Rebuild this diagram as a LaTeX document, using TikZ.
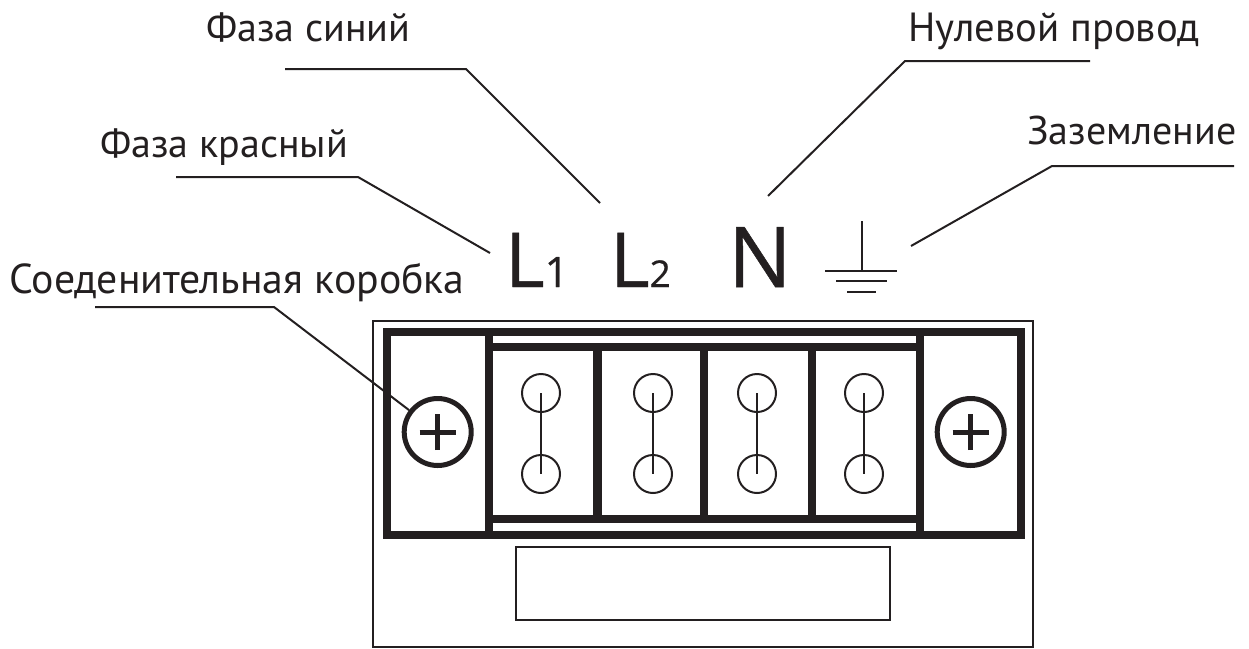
\documentclass[tikz,border=0pt]{standalone}
\usepackage{fontspec}
\setmainfont{PT Sans}
\newfontfamily\markfont{Open Sans}[FakeBold=0.6]
\usepackage{xcolor}
\usetikzlibrary{positioning}
\definecolor{inkblack}{HTML}{231F20}
\tikzset{
    label text/.style = {anchor = base west, inner sep = 0pt, text = inkblack, font = \fontsize{40}{40}\selectfont},
    mark text/.style = {anchor = base west, inner sep = 0pt, text = inkblack, font = \markfont\fontsize{76}{76}\selectfont},
    leader/.style = {draw = inkblack, line width = 2pt},
    heavy/.style = {draw = inkblack, line width = 8pt},
    terminal/.style = {circle, draw = inkblack, line width = 2pt, minimum size = 38pt, inner sep = 0pt},
    screw/.style = {circle, draw = inkblack, line width = 5pt, minimum size = 67pt, inner sep = 0pt}
}
\newcommand{\subfig}[2]{{\fontsize{#1}{#1}\selectfont #2}}
\begin{document}
\begin{tikzpicture}[x = 1pt, y = -1pt]
            \useasboundingbox (0,0) rectangle (1249,648);
            % housing and name plate
            \draw[leader] (373,321) rectangle (1033,647);
            \draw[leader] (516,547) rectangle (890,620);
            % terminal block
            \draw[heavy] (387,332) rectangle (1021,535);
            \draw[heavy] (489,332) -- (489,539);
            \draw[heavy] (920,328) -- (920,539);
            \draw[heavy] (489,347) -- (920,347);
            \draw[heavy] (489,519) -- (920,519);
            \draw[heavy, line width = 9pt] (597.5,343) -- (597.5,523);
            \draw[heavy] (704,343) -- (704,523);
            \draw[heavy] (812,343) -- (812,523);
            % terminals
            \foreach \name/\xpos in {ta/541, tb/653, tc/757, td/864} {
                \node[terminal] (\name top) at (\xpos,393) {};
                \node[terminal] (\name bot) at (\xpos,474) {};
                \draw[leader] (\name top.center) -- (\name bot.center);
            }
            % fixing screws
            \foreach \name/\xpos in {sl/437.7, sr/970.7} {
                \node[screw] (\name) at (\xpos,432) {};
                \draw[heavy, line width = 5pt] ([xshift = -18pt]\name.center) -- ([xshift = 18pt]\name.center);
                \draw[heavy, line width = 5pt] ([yshift = -18pt]\name.center) -- ([yshift = 18pt]\name.center);
            }
            % marks
            \node[mark text] (lone) at (505,287) {L\subfig{42}{1}};
            \node[mark text] (ltwo) at (610,287) {L\subfig{37}{2}};
            \node[mark text, font = \markfont\fontsize{84}{84}\selectfont] (nmark) at (728,287) {N};
            % earth symbol
            \coordinate (etop) at (862,221);
            \coordinate (ebase) at (862,270.5);
            \draw[leader] (etop) -- (ebase);
            \draw[leader] (825,270.5) -- (897,270.5);
            \draw[leader] (836,281) -- (887,281);
            \draw[leader] (847,292) -- (876,292);
            % labels
            \node[label text] (lblblue) at (206,41) {Фаза синий};
            \node[label text, font = \fontsize{40.7}{40.7}\selectfont] (lblzero) at (908,41) {Нулевой провод};
            \node[label text] (lblearth) at (1027,144) {Заземление};
            \node[label text] (lblred) at (100,157) {Фаза красный};
            \node[label text, font = \fontsize{41.8}{41.8}\selectfont] (lblbox) at (9,293) {Соеденительная коробка};
            % leaders
            \coordinate (bluea) at (285,69);
            \coordinate (blueb) at (466,69);
            \coordinate (bluec) at (600,203);
            \draw[leader] (bluea) -- (blueb) -- (bluec);
            \coordinate (zeroa) at (1090,61);
            \coordinate (zerob) at (905,61);
            \coordinate (zeroc) at (768,196);
            \draw[leader] (zeroa) -- (zerob) -- (zeroc);
            \coordinate (eartha) at (1234,166);
            \coordinate (earthb) at (1052,166);
            \coordinate (earthc) at (911,246);
            \draw[leader] (eartha) -- (earthb) -- (earthc);
            \coordinate (reda) at (176,177);
            \coordinate (redb) at (358,177);
            \coordinate (redc) at (490,253);
            \draw[leader] (reda) -- (redb) -- (redc);
            \coordinate (boxa) at (95,307);
            \coordinate (boxb) at (274,307);
            \draw[leader] (boxa) -- (boxb) -- (sl);
            \end{tikzpicture}
\end{document}
